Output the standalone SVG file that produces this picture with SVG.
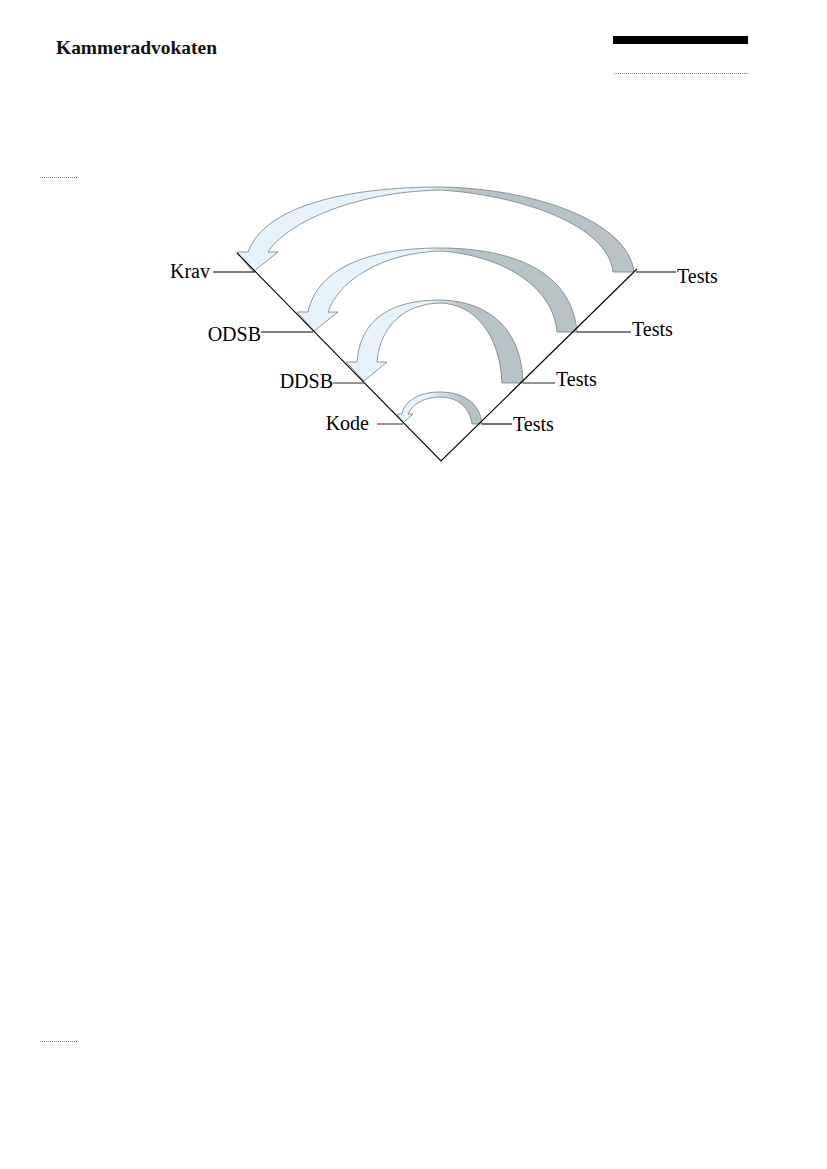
<svg xmlns="http://www.w3.org/2000/svg" width="827" height="1169" viewBox="0 0 827 1169">
<defs>
<linearGradient id="band" gradientUnits="userSpaceOnUse" x1="428" y1="0" x2="462" y2="0">
<stop offset="0" stop-color="#e6f3fa"/>
<stop offset="1" stop-color="#b8c3c7"/>
</linearGradient>
</defs>
<style>
.lbl{font-family:"Liberation Serif","Times New Roman",serif;font-size:20px;fill:#000}
.hdr{font-family:"Liberation Serif","Times New Roman",serif;font-size:19px;font-weight:bold;fill:#111}
.arr{fill:url(#band);stroke:#757f83;stroke-width:0.8;stroke-linejoin:miter}
.ln{stroke:#000;stroke-width:1.1;fill:none}
.lg{stroke:#5a5a5a;stroke-width:1.3;fill:none}
.dot{stroke:#777;stroke-width:1;stroke-dasharray:1 1;fill:none}
</style>
<rect width="827" height="1169" fill="#fff"/>
<g id="header">
<text class="hdr" x="56" y="54" textLength="161" lengthAdjust="spacingAndGlyphs">Kammeradvokaten</text>
<rect x="613" y="36" width="135" height="8" fill="#000"/>
<line class="dot" x1="614" y1="73.5" x2="748" y2="73.5"/>
<line class="dot" x1="40" y1="177.5" x2="77" y2="177.5"/>
<line class="dot" x1="40" y1="1041.5" x2="77" y2="1041.5"/>
</g>
<g id="connectors">
<path id="arrow1" class="arr" d="M634,272 C628,220 530,188 440,187 C350,187 265,205 248,252 L237,252 L253,272 L278,252 L268,252 C285,225 350,192 440,190 C520,195 608,225 613,272 Z"/>
<path id="arrow2" class="arr" d="M577,332 C572,270 510,248 440,248 C375,248 318,265 308,312 L297,312 L314,331 L338,312 L328,312 C338,282 380,253 440,251 C500,255 553,285 557,332 Z"/>
<path id="arrow3" class="arr" d="M523,383 C522,330 490,301 440,300 C390,300 360,320 357,362 L346,362 L364,381 L387,362 L377,362 C380,325 405,304 440,303 C475,304 500,335 502,383 Z"/>
<path id="arrow4" class="arr" d="M482,424 C480,402 462,392 440,392 C420,392 405,400 402,414 L397,414 L403,423 L413,414 L408,414 C412,404 425,397 440,397 C458,397 470,408 472,424 Z"/>
</g>
<g id="vee">
<polyline class="ln" points="237,253 441,461 637,269"/>
</g>
<g id="krav">
<line class="ln" x1="213" y1="272" x2="255" y2="272"/>
<text class="lbl" x="210" y="278" text-anchor="end">Krav</text>
</g>
<g id="odsb">
<line class="ln" x1="261" y1="332" x2="313" y2="332"/>
<text class="lbl" x="261" y="341" text-anchor="end">ODSB</text>
</g>
<g id="ddsb">
<line class="lg" x1="333" y1="383" x2="364" y2="383"/>
<text class="lbl" x="333" y="388" text-anchor="end">DDSB</text>
</g>
<g id="kode">
<line class="lg" x1="377" y1="424" x2="403" y2="424"/>
<text class="lbl" x="369" y="430" text-anchor="end">Kode</text>
</g>
<g id="tests1">
<line class="lg" x1="636" y1="272" x2="676" y2="272"/>
<text class="lbl" x="677" y="283">Tests</text>
</g>
<g id="tests2">
<line class="ln" x1="577" y1="332" x2="631" y2="332"/>
<text class="lbl" x="632" y="336">Tests</text>
</g>
<g id="tests3">
<line class="lg" x1="523" y1="383" x2="555" y2="383"/>
<text class="lbl" x="556" y="386">Tests</text>
</g>
<g id="tests4">
<line class="ln" x1="482" y1="424" x2="512" y2="424"/>
<text class="lbl" x="513" y="431">Tests</text>
</g>
</svg>
